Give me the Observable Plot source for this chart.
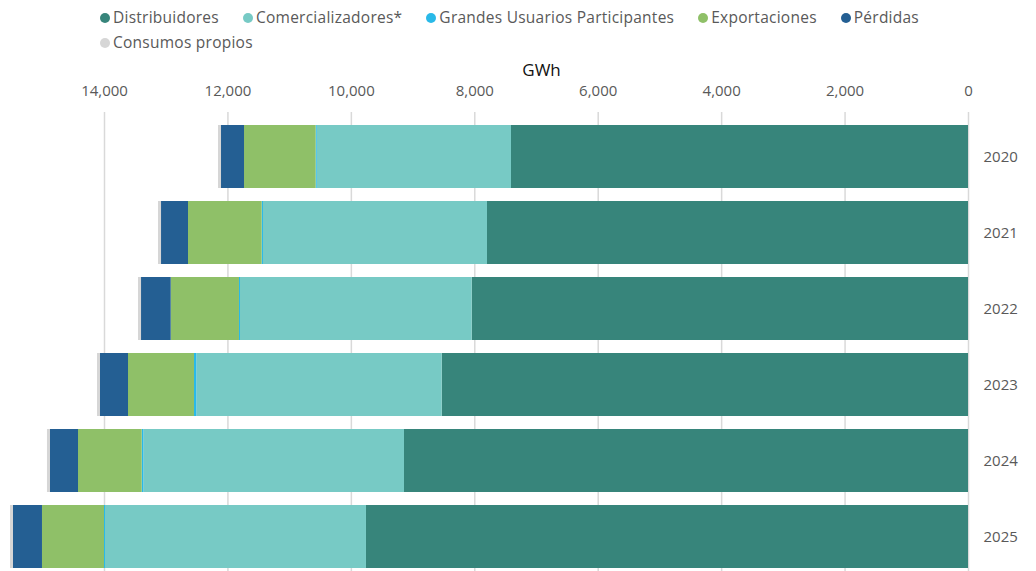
<!DOCTYPE html>
<html>
<head>
<meta charset="utf-8">
<script src="https://cdn.jsdelivr.net/npm/d3@7"></script>
<script src="https://cdn.jsdelivr.net/npm/@observablehq/plot@0.6"></script>
<style>
  html, body { margin: 0; padding: 0; background: #fff; }
  body { width: 1036px; height: 571px; overflow: hidden; font-family: "Open Sans", sans-serif; }
  #legend { height: 56px; box-sizing: border-box; padding: 4px 0 0 100px; width: 980px;
            display: flex; flex-wrap: wrap; align-content: flex-start; }
  .item { display: flex; align-items: center; height: 25px; margin-right: 24px;
          font-size: 15.5px; letter-spacing: 0.25px; color: #595959; }
  .dot { width: 10px; height: 10px; border-radius: 50%; margin-right: 3px; margin-top: 3px; }
  #chart svg { display: block; }
</style>
</head>
<body>
<div id="legend"></div>
<div id="chart"></div>
<script>
const years = ["2020", "2021", "2022", "2023", "2024", "2025"];
const categories = ["Distribuidores", "Comercializadores*", "Grandes Usuarios Participantes", "Exportaciones", "Pérdidas", "Consumos propios"];
const colors = ["#37857B", "#77CAC5", "#29B9E8", "#8FC068", "#245F93", "#D6D6D6"];

const distribuidores    = [7405, 7794, 8042, 8528, 9139, 9755];
const comercializadores = [3148, 3630, 3754, 3976, 4224, 4229];
const grandesUsuarios   = [17, 21, 17, 38, 26, 16];
const exportaciones     = [1161, 1194, 1106, 1069, 1032, 1005];
const perdidas          = [373, 437, 481, 454, 454, 470];
const consumosPropios   = [49, 49, 49, 48, 49, 48];

const xTicks = [0, 2000, 4000, 6000, 8000, 10000, 12000, 14000];

const series = [distribuidores, comercializadores, grandesUsuarios, exportaciones, perdidas, consumosPropios];
const data = years.flatMap((year, i) =>
  categories.map((category, k) => ({year, category, value: series[k][i]}))
);

// legend
const legend = document.getElementById("legend");
categories.forEach((c, k) => {
  const item = document.createElement("div");
  item.className = "item";
  const dot = document.createElement("span");
  dot.className = "dot";
  dot.style.background = colors[k];
  const label = document.createElement("span");
  label.textContent = c;
  item.appendChild(dot);
  item.appendChild(label);
  legend.appendChild(item);
});

const fmt = d3.format(",");

const chart = Plot.plot({
  width: 1036,
  height: 515,
  marginTop: 56,
  marginBottom: 0,
  marginLeft: 114,
  marginRight: 68,
  style: {fontFamily: "Open Sans, sans-serif", background: "#fff"},
  x: {domain: [0, 14000], range: [968, 104]},
  y: {domain: years, range: [67, 514], paddingInner: 0.17, paddingOuter: 0},
  color: {domain: categories, range: colors},
  marks: [
    Plot.gridX(xTicks, {stroke: "#d9d9d9", strokeOpacity: 1, strokeWidth: 1.5}),
    Plot.barX(data, {y: "year", x: "value", fill: "category", order: categories}),
    Plot.axisX({anchor: "top", ticks: xTicks, tickFormat: fmt, tickSize: 0, tickPadding: 17,
                fontSize: 15, fill: "#595959", label: null}),
    Plot.axisY({anchor: "right", tickSize: 0, tickPadding: 15, fontSize: 15, fill: "#595959", label: null}),
    Plot.text(["GWh"], {frameAnchor: "top", dy: -49, fontSize: 17, fill: "#111"})
  ]
});
document.getElementById("chart").appendChild(chart);
</script>
</body>
</html>
